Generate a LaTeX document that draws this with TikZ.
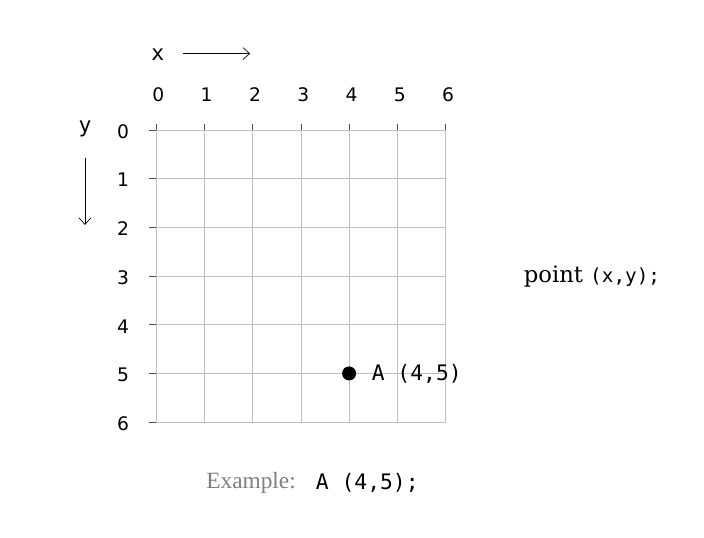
\documentclass[tikz,border=0pt]{standalone}
\usepackage{fontspec}
\setmainfont{Liberation Serif}
\setsansfont{DejaVu Sans}
\setmonofont{DejaVu Sans Mono}
\newfontfamily\pointfont{DejaVu Serif}
\usetikzlibrary{positioning, arrows, arrows.meta}

\begin{document}
\begin{tikzpicture}[x=36.2pt, y=-36.5pt,
	num/.style={font=\sffamily\fontsize{14}{14}\selectfont},
	code/.style={font=\ttfamily\fontsize{16}{16}\selectfont},
	axis/.style={-{Straight Barb[length=5pt,width=9pt]}, line width=0.5pt}]
\useasboundingbox (-3.23,-2.67) rectangle (11.35,8.38);
% grid with ticks and numbers
\foreach \i in {0,...,6}{
	\draw[gray!50] (\i,0) -- (\i,6);
	\draw[gray!50] (0,\i) -- (6,\i);
	\draw[black!70] (\i,0) -- (\i,-0.13);
	\draw[black!70] (0,\i) -- (-0.15,\i);
	\node[num] (x\i) at (\i+0.05,-0.72) {\i};
	\node[num] (y\i) at (-0.68,\i+0.03) {\i};
}
% axes names
\node[code] (xname) at (0.04,-1.55) {x};
\node[code] (yname) at (-1.47,-0.02) {y};
\coordinate (xa) at (0.56,-1.57);
\coordinate (xb) at (1.95,-1.57);
\coordinate (ya) at (-1.47,0.57);
\coordinate (yb) at (-1.47,1.95);
\draw[axis] (xa) -- (xb);
\draw[axis] (ya) -- (yb);
% the point
\node[circle, fill=black, inner sep=0pt, minimum size=10.5pt] (A) at (4,5) {};
\node[code, right=8pt of A] (Alabel) {A (4,5)};
\node[font=\pointfont\fontsize{17}{17}\selectfont] (point) at (9.03,3.0) {point \texttt{\fontsize{14.5}{15}\selectfont(x,y);}};
\node[text=gray, font=\fontsize{17.5}{18}\selectfont] (ex) at (1.97,7.25) {Example:};
\node[code, right=8pt of ex] (excode) {A (4,5);};

\end{tikzpicture}
\end{document}
